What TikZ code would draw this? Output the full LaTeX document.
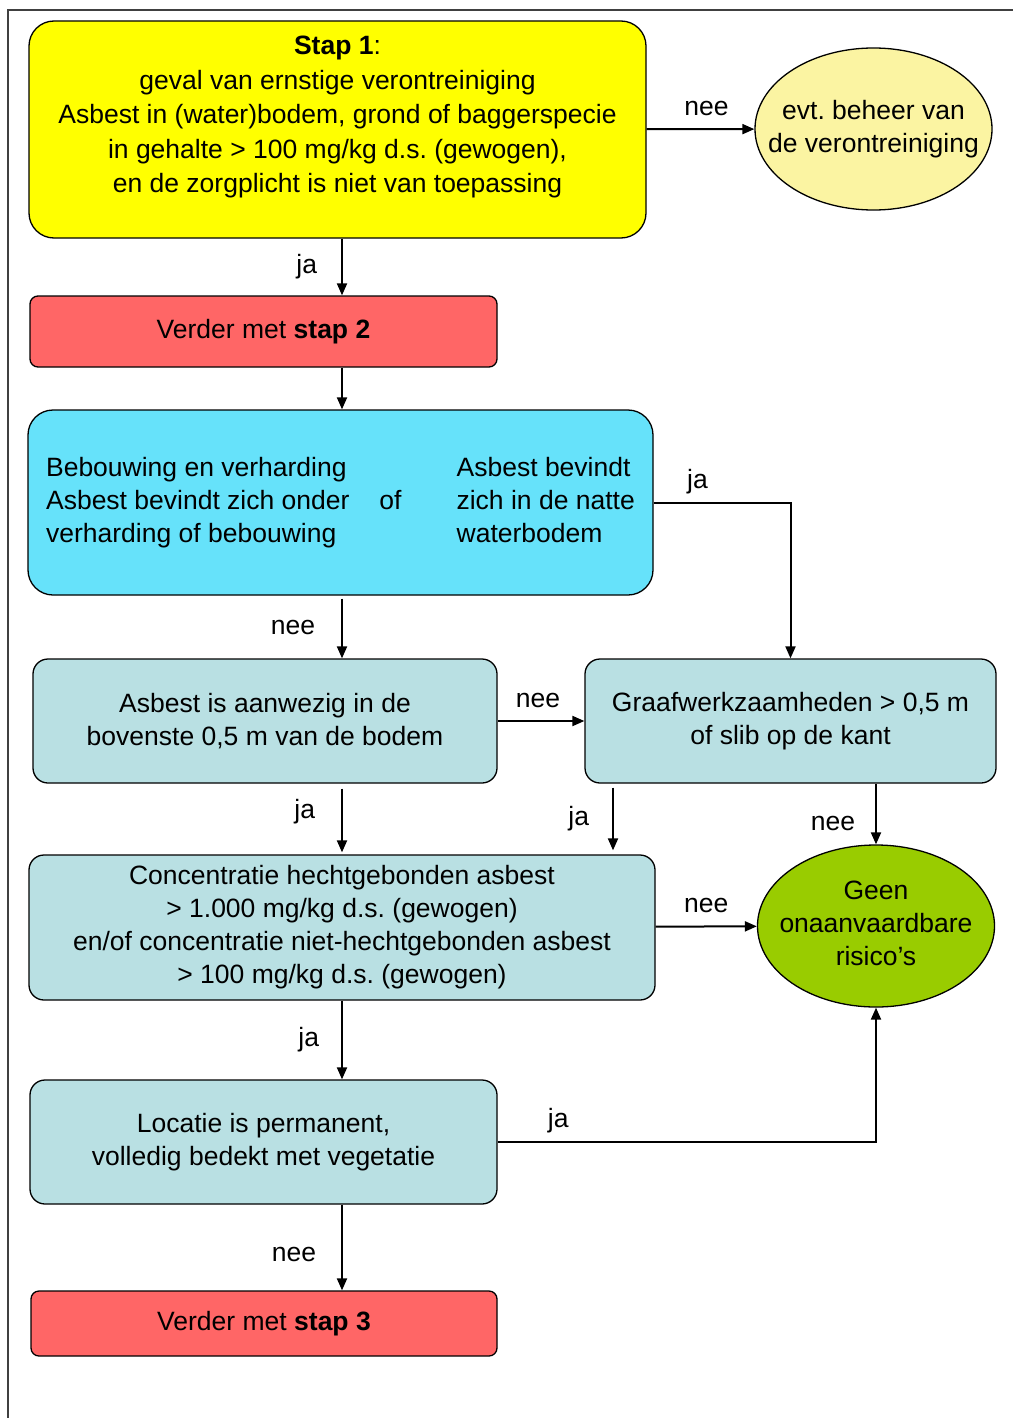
\documentclass[tikz,border=0pt]{standalone}
\usepackage{fontspec}
\setmainfont{Liberation Sans}
\usepackage{tikz}
\usetikzlibrary{arrows.meta,shapes.geometric}

\definecolor{geel}{HTML}{FFFF00}
\definecolor{lichtgeel}{HTML}{FBF4A2}
\definecolor{rood}{HTML}{FF6666}
\definecolor{cyaan}{HTML}{66E2FA}
\definecolor{lichtblauw}{HTML}{B9E0E3}
\definecolor{groen}{HTML}{99CC00}
\frenchspacing

\begin{document}
\begin{tikzpicture}[x=1pt, y=-1pt, ->, >={Triangle[length=12pt,width=10pt]}, line width=2pt,
		every node/.style={font=\fontsize{26.5}{33}\selectfont},
		box/.style={draw, line width=1.3pt, inner sep=0pt, align=center},
		stapbox/.style={box, fill=geel, rounded corners=25pt},
		verderbox/.style={box, fill=rood, rounded corners=8pt},
		keuzebox/.style={box, fill=cyaan, rounded corners=25pt},
		vraagbox/.style={box, fill=lichtblauw, rounded corners=15pt},
		eind/.style={box, ellipse, minimum width=237pt, minimum height=162pt},
		lbl/.style={inner sep=2pt}]
	\useasboundingbox (0,0) rectangle (1013,1418);
	\draw[-, line width=1.3pt, black!75] (8,1418) -- (8,10) -- (1013,10);

	\coordinate (mid) at (342,0);
	\coordinate (kolG) at (613,0);

	\node[stapbox, minimum width=617pt, minimum height=217pt] (stap1) at (337.5,129.5)
		{\parbox[c][187pt][t]{600pt}{\centering\fontsize{26.5}{34.5}\selectfont
		\textbf{Stap 1}:\\ geval van ernstige verontreiniging\\ Asbest in (water)bodem, grond of baggerspecie\\
		in gehalte > 100 mg/kg d.s. (gewogen),\\ en de zorgplicht is niet van toepassing}};
	\node[eind, fill=lichtgeel] (evt) at (873.5,129)
		{\makebox[120pt]{\begin{tabular}{@{}c@{}}evt. beheer van\\ de verontreiniging\end{tabular}}};
	\node[verderbox, minimum width=467pt, minimum height=71pt] (stap2) at (263.5,331.5) {Verder met \textbf{stap 2}};
	\node[keuzebox, minimum width=625pt, minimum height=185pt] (keuze) at (340.5,502.5)
		{\begin{tabular}{@{}l@{\hspace{30pt}}l@{\hspace{55pt}}l@{}}
		Bebouwing en verharding & & Asbest bevindt\\
		Asbest bevindt zich onder & of & zich in de natte\\
		verharding of bebouwing & & waterbodem
		\end{tabular}};
	\node[vraagbox, minimum width=464pt, minimum height=124pt] (boven) at (265,721)
		{Asbest is aanwezig in de\\ bovenste 0,5 m van de bodem};
	\node[vraagbox, minimum width=411pt, minimum height=124pt] (graaf) at (790.5,721)
		{Graafwerkzaamheden > 0,5 m\\ of slib op de kant};
	\node[vraagbox, minimum width=626pt, minimum height=145pt] (conc) at (342,927.5)
		{Concentratie hechtgebonden asbest\\ > 1.000 mg/kg d.s. (gewogen)\\
		en/of concentratie niet-hechtgebonden asbest\\ > 100 mg/kg d.s. (gewogen)};
	\node[eind, fill=groen] (geen) at (876,926)
		{\makebox[120pt]{\begin{tabular}{@{}c@{}}Geen\\ onaanvaardbare\\ risico’s\end{tabular}}};
	\node[vraagbox, minimum width=467pt, minimum height=124pt] (locatie) at (263.5,1142)
		{Locatie is permanent,\\ volledig bedekt met vegetatie};
	\node[verderbox, minimum width=466pt, minimum height=65pt] (stap3) at (264,1323.5) {Verder met \textbf{stap 3}};

	\path	(stap1)		edge	node[lbl, above=10pt, xshift=6pt]	{nee}	(evt)
			(stap1.south -| mid)	edge	node[lbl, left=22pt]	{ja}	(stap2.north -| mid)
			(stap2.south -| mid)	edge	(keuze.north -| mid)
			(keuze.south -| mid)	edge[shorten <=3pt]	node[lbl, left=24pt]	{nee}	(boven.north -| mid)
			(boven)		edge	node[lbl, above=10pt, xshift=-3pt]	{nee}	(graaf)
			(boven.south -| mid)	edge[shorten <=5pt, shorten >=2pt]	node[lbl, left=24pt, pos=0.4]	{ja}	(conc.north -| mid)
			(graaf.south -| kolG)	edge[shorten <=4pt, shorten >=4pt]	node[lbl, left=21pt]	{ja}	(conc.north -| kolG)
			(graaf.south -| geen)	edge	node[lbl, left=18pt, pos=0.65]	{nee}	(geen.north)
			(conc)		edge	node[lbl, above=11pt]	{nee}	(geen)
			(conc.south -| mid)	edge	node[lbl, left=20pt]	{ja}	(locatie.north -| mid)
			(locatie.south -| mid)	edge	node[lbl, left=23pt, pos=0.58]	{nee}	(stap3.north -| mid);
	\draw (keuze.east) -| node[lbl, pos=0.16, above=6pt] {ja} (graaf.north);
	\draw (locatie.east) -| node[lbl, pos=0.08, above=6pt] {ja} (geen.south);
\end{tikzpicture}
\end{document}
